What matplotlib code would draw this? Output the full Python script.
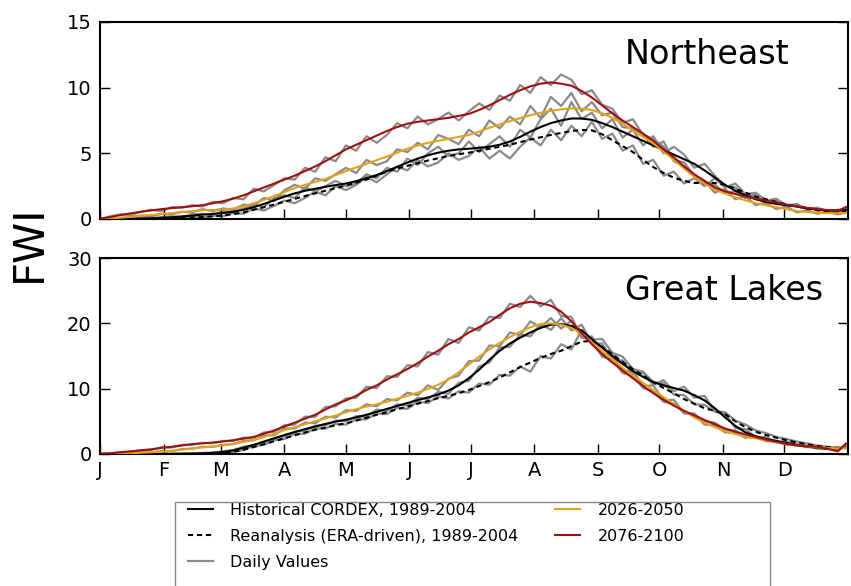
import matplotlib
matplotlib.use("Agg")
import matplotlib.pyplot as plt
from matplotlib.lines import Line2D
from matplotlib.patches import Rectangle

# ---------------- data ----------------
days = list(range(0, 361, 5)) + [364]
month_starts = [0, 31, 59, 90, 120, 151, 181, 212, 243, 273, 304, 334]
month_labels = ["J", "F", "M", "A", "M", "J", "J", "A", "S", "O", "N", "D"]

# Northeast smooth curves
ne_hist = [0.0, 0.0, 0.0, 0.01, 0.03, 0.05, 0.08, 0.13, 0.2, 0.26,
           0.33, 0.39, 0.45, 0.55, 0.7, 0.9, 1.15, 1.42, 1.7, 1.95,
           2.15, 2.3, 2.45, 2.58, 2.7, 2.88, 3.1, 3.35, 3.65, 3.97,
           4.3, 4.6, 4.85, 5.05, 5.2, 5.3, 5.35, 5.42, 5.5, 5.65,
           5.9, 6.25, 6.65, 7.0, 7.3, 7.5, 7.65, 7.65, 7.55, 7.3,
           7.0, 6.65, 6.3, 5.95, 5.6, 5.25, 4.9, 4.55, 4.2, 3.7,
           3.15, 2.6, 2.15, 1.8, 1.5, 1.3, 1.15, 1.05, 0.95, 0.82,
           0.7, 0.65, 0.65, 0.7]
ne_rean = [0.0, 0.0, 0.0, 0.0, 0.0, 0.01, 0.02, 0.04, 0.07, 0.1,
           0.15, 0.2, 0.27, 0.37, 0.5, 0.7, 0.9, 1.1, 1.32, 1.53,
           1.75, 1.95, 2.15, 2.35, 2.55, 2.77, 3.0, 3.3, 3.6, 3.85,
           4.05, 4.25, 4.45, 4.62, 4.8, 4.93, 5.05, 5.2, 5.35, 5.5,
           5.65, 5.85, 6.05, 6.22, 6.4, 6.55, 6.7, 6.78, 6.75, 6.45,
           6.0, 5.55, 5.1, 4.5, 3.95, 3.5, 3.15, 2.9, 2.75, 2.72,
           2.75, 2.6, 2.3, 2.0, 1.7, 1.5, 1.3, 1.12, 0.95, 0.8,
           0.65, 0.58, 0.55, 0.6]
ne_mid = [0.0, 0.05, 0.1, 0.17, 0.25, 0.31, 0.37, 0.45, 0.52, 0.6,
          0.66, 0.68, 0.72, 0.8, 0.95, 1.2, 1.45, 1.75, 2.05, 2.35,
          2.6, 2.82, 3.05, 3.35, 3.65, 3.92, 4.2, 4.48, 4.75, 5.05,
          5.35, 5.6, 5.8, 5.95, 6.1, 6.25, 6.4, 6.65, 6.95, 7.2,
          7.45, 7.68, 7.9, 8.08, 8.25, 8.35, 8.42, 8.4, 8.3, 8.05,
          7.7, 7.25, 6.75, 6.25, 5.75, 5.15, 4.5, 3.85, 3.2, 2.7,
          2.25, 1.93, 1.65, 1.42, 1.2, 1.05, 0.9, 0.75, 0.6, 0.53,
          0.47, 0.45, 0.43, 0.45]
ne_end = [0.0, 0.15, 0.3, 0.43, 0.55, 0.65, 0.75, 0.83, 0.9, 0.97,
          1.05, 1.2, 1.35, 1.55, 1.8, 2.1, 2.4, 2.7, 3.0, 3.3,
          3.65, 4.0, 4.4, 4.85, 5.3, 5.65, 6.0, 6.35, 6.7, 7.0,
          7.25, 7.4, 7.5, 7.6, 7.7, 7.85, 8.0, 8.3, 8.65, 9.05,
          9.45, 9.8, 10.1, 10.3, 10.4, 10.3, 10.15, 9.75, 9.25, 8.65,
          8.05, 7.5, 7.0, 6.5, 5.95, 5.3, 4.7, 4.0, 3.4, 2.9,
          2.4, 2.1, 1.9, 1.7, 1.55, 1.4, 1.25, 1.1, 0.95, 0.85,
          0.75, 0.68, 0.6, 0.9]

# Northeast daily values
ne_hist_daily = [0.0, 0.05, 0.0, 0.05, 0.1, 0.05, 0.15, 0.2, 0.15, 0.35,
                 0.4, 0.3, 0.6, 0.55, 0.8, 1.1, 0.9, 1.6, 1.8, 1.6,
                 2.4, 2.1, 2.5, 2.9, 2.5, 2.7, 3.4, 3.1, 3.9, 3.6,
                 4.6, 4.1, 5.0, 5.5, 4.8, 5.0, 5.9, 5.1, 5.7, 6.3,
                 5.5, 6.8, 6.2, 7.6, 8.4, 7.1, 8.9, 7.6, 8.1, 6.9,
                 7.6, 6.2, 6.8, 5.6, 6.3, 5.0, 5.5, 4.9, 3.9, 4.2,
                 3.3, 2.5, 2.4, 1.6, 1.9, 1.2, 1.4, 1.0, 1.1, 0.8,
                 0.8, 0.6, 0.7, 0.75]
ne_rean_daily = [0.0, 0.0, 0.05, 0.0, 0.0, 0.05, 0.0, 0.1, 0.05, 0.15,
                 0.1, 0.25, 0.2, 0.45, 0.4, 0.8, 0.65, 1.0, 1.4, 1.2,
                 1.6, 2.1, 1.8, 2.5, 2.2, 2.6, 3.2, 2.8, 3.4, 4.0,
                 3.7, 4.5, 4.0, 4.3, 5.0, 4.5, 4.8, 5.5, 4.6, 5.2,
                 4.6, 5.5, 6.2, 5.6, 6.8, 6.0, 7.1, 6.3, 7.4, 6.1,
                 6.5, 5.2, 5.6, 4.2, 4.5, 3.3, 3.6, 2.7, 3.1, 2.5,
                 3.1, 2.4, 2.7, 1.9, 2.0, 1.4, 1.55, 1.0, 1.15, 0.7,
                 0.85, 0.5, 0.6, 0.5]
ne_mid_daily = [0.0, 0.1, 0.05, 0.15, 0.25, 0.2, 0.4, 0.35, 0.55, 0.5,
                0.75, 0.6, 0.8, 0.7, 1.1, 1.0, 1.6, 1.4, 2.2, 2.6,
                2.3, 3.1, 2.9, 3.4, 3.9, 3.5, 4.5, 4.1, 4.4, 5.3,
                5.1, 5.8, 5.3, 6.4, 6.1, 5.7, 6.8, 6.3, 7.5, 6.9,
                7.8, 7.2, 8.6, 7.7, 9.3, 8.6, 9.6, 8.2, 8.9, 7.9,
                8.1, 7.0, 6.9, 6.5, 5.5, 5.9, 4.4, 4.0, 3.3, 2.9,
                2.0, 2.3, 1.5, 1.75, 1.05, 1.25, 0.75, 0.95, 0.5, 0.65,
                0.4, 0.55, 0.35, 0.5]
ne_end_daily = [0.0, 0.2, 0.35, 0.3, 0.55, 0.7, 0.6, 0.9, 0.85, 1.05,
                0.95, 1.3, 1.2, 1.6, 1.5, 2.3, 2.1, 2.6, 3.1, 3.0,
                3.9, 3.6, 4.7, 4.4, 5.6, 5.2, 6.3, 5.8, 6.4, 7.3,
                6.9, 7.8, 7.2, 7.6, 8.1, 7.5, 8.2, 8.8, 8.3, 9.4,
                9.0, 10.2, 9.6, 10.8, 10.2, 11.0, 10.6, 9.5, 9.8, 8.7,
                8.4, 7.3, 7.6, 6.4, 6.1, 5.5, 4.5, 4.3, 3.3, 2.8,
                2.6, 2.0, 2.1, 1.6, 1.7, 1.3, 1.35, 1.0, 1.05, 0.8,
                0.85, 0.6, 0.6, 0.9]

# Great Lakes smooth curves
gl_hist = [0.0, 0.0, 0.0, 0.0, 0.0, 0.0, 0.0, 0.0, 0.02, 0.05,
           0.1, 0.18, 0.3, 0.55, 0.95, 1.4, 1.9, 2.4, 2.9, 3.35,
           3.8, 4.2, 4.6, 4.95, 5.25, 5.6, 6.0, 6.45, 6.9, 7.35,
           7.8, 8.25, 8.65, 9.1, 9.7, 10.5, 11.6, 12.9, 14.4, 15.8,
           16.9, 17.8, 18.6, 19.3, 19.8, 19.9, 19.6, 18.9, 17.6, 16.3,
           15.0, 13.8, 12.7, 11.8, 11.0, 10.5, 10.1, 9.7, 9.0, 8.2,
           7.0, 5.6, 4.3, 3.3, 2.7, 2.3, 2.0, 1.7, 1.4, 1.15,
           0.9, 0.8, 0.9, 0.95]
gl_rean = [0.0, 0.0, 0.0, 0.0, 0.0, 0.0, 0.0, 0.0, 0.0, 0.0,
           0.02, 0.05, 0.1, 0.3, 0.65, 1.05, 1.5, 1.95, 2.4, 2.85,
           3.3, 3.7, 4.05, 4.4, 4.7, 5.1, 5.55, 6.0, 6.4, 6.85,
           7.25, 7.7, 8.1, 8.55, 8.9, 9.3, 9.8, 10.4, 11.0, 11.7,
           12.5, 13.3, 14.0, 14.7, 15.3, 15.8, 16.5, 17.2, 17.3, 16.4,
           15.3, 14.1, 13.0, 12.0, 11.0, 10.1, 9.3, 8.4, 7.7, 7.0,
           6.6, 6.1, 5.0, 4.1, 3.4, 2.9, 2.5, 2.1, 1.75, 1.5,
           1.2, 1.05, 0.95, 0.95]
gl_mid = [0.0, 0.0, 0.05, 0.1, 0.18, 0.27, 0.35, 0.5, 0.65, 0.85,
          1.0, 1.15, 1.3, 1.55, 1.85, 2.15, 2.6, 3.1, 3.65, 4.1,
          4.55, 5.0, 5.45, 5.9, 6.4, 6.85, 7.25, 7.6, 8.0, 8.45,
          8.9, 9.4, 9.95, 10.6, 11.4, 12.5, 13.7, 14.9, 16.0, 17.0,
          17.9, 18.7, 19.4, 19.9, 20.0, 19.8, 19.3, 18.4, 17.1, 15.8,
          14.5, 13.2, 12.0, 10.9, 9.8, 8.7, 7.6, 6.6, 5.6, 4.8,
          4.1, 3.5, 3.05, 2.7, 2.4, 2.1, 1.8, 1.5, 1.3, 1.15,
          1.0, 0.9, 0.87, 0.9]
gl_end = [0.0, 0.1, 0.25, 0.4, 0.55, 0.7, 0.95, 1.1, 1.3, 1.5,
          1.62, 1.75, 1.9, 2.1, 2.35, 2.6, 3.1, 3.6, 4.2, 4.8,
          5.4, 6.0, 6.8, 7.6, 8.2, 8.9, 9.8, 10.5, 11.4, 12.2,
          13.0, 13.9, 14.9, 15.8, 16.8, 17.6, 18.6, 19.4, 20.2, 21.3,
          22.3, 23.0, 23.3, 23.1, 22.7, 21.8, 20.3, 18.5, 16.8, 15.3,
          14.0, 12.8, 11.6, 10.4, 9.3, 8.3, 7.4, 6.6, 5.9, 5.2,
          4.55, 3.9, 3.4, 3.0, 2.6, 2.2, 1.85, 1.55, 1.3, 1.15,
          1.1, 0.8, 0.4, 1.6]

# Great Lakes daily values
gl_hist_daily = [0.0, 0.0, 0.0, 0.05, 0.0, 0.0, 0.05, 0.0, 0.1, 0.05,
                 0.15, 0.2, 0.4, 0.6, 1.1, 1.3, 1.8, 2.4, 2.7, 3.4,
                 3.6, 4.3, 4.4, 5.1, 5.0, 5.8, 5.7, 6.8, 6.6, 7.6,
                 7.4, 8.6, 8.4, 9.5, 9.2, 10.9, 11.2, 13.4, 14.0, 16.3,
                 16.4, 18.3, 18.0, 19.9, 19.0, 20.8, 18.9, 19.8, 17.0, 16.9,
                 14.5, 14.3, 12.2, 12.4, 10.6, 11.3, 9.6, 10.3, 8.6, 8.9,
                 6.5, 6.1, 4.0, 3.8, 2.5, 2.6, 1.8, 1.9, 1.3, 1.3,
                 0.85, 0.9, 0.85, 0.95]
gl_rean_daily = [0.0, 0.0, 0.0, 0.0, 0.0, 0.05, 0.0, 0.05, 0.0, 0.05,
                 0.0, 0.1, 0.1, 0.35, 0.6, 1.2, 1.4, 2.1, 2.3, 3.1,
                 3.1, 3.9, 3.9, 4.6, 4.5, 5.3, 5.3, 6.2, 6.1, 7.1,
                 6.9, 8.0, 7.8, 8.8, 8.5, 9.6, 9.4, 10.8, 10.6, 12.1,
                 12.0, 13.4, 12.6, 15.0, 14.6, 16.8, 16.0, 19.0, 17.5, 17.6,
                 15.5, 14.9, 13.0, 12.6, 11.0, 10.8, 9.1, 9.0, 7.6, 7.5,
                 6.5, 6.4, 5.1, 4.5, 3.6, 3.2, 2.6, 2.3, 1.9, 1.6,
                 1.3, 1.1, 0.95, 0.9]
gl_mid_daily = [0.0, 0.0, 0.1, 0.1, 0.25, 0.25, 0.45, 0.45, 0.75, 0.8,
                1.1, 1.1, 1.4, 1.5, 2.0, 2.1, 2.8, 2.9, 3.9, 3.9,
                4.8, 4.7, 5.7, 5.6, 6.7, 6.6, 7.6, 7.3, 8.4, 8.2,
                9.4, 9.0, 10.5, 9.8, 11.5, 12.0, 14.2, 14.3, 16.6, 16.5,
                18.6, 18.2, 20.3, 19.4, 20.8, 19.2, 20.4, 17.8, 18.0, 15.2,
                15.3, 12.6, 12.8, 10.4, 10.5, 8.2, 8.3, 6.2, 6.2, 4.5,
                4.4, 3.3, 3.3, 2.5, 2.6, 1.95, 1.95, 1.4, 1.45, 1.05,
                1.1, 0.85, 0.95, 0.9]
gl_end_daily = [0.0, 0.1, 0.3, 0.35, 0.6, 0.65, 1.0, 1.0, 1.4, 1.4,
                1.7, 1.65, 2.0, 2.0, 2.5, 2.5, 3.3, 3.4, 4.4, 4.5,
                5.7, 5.7, 7.2, 7.3, 8.5, 8.6, 10.3, 10.1, 11.9, 11.8,
                13.6, 13.4, 15.6, 15.2, 17.6, 17.0, 19.4, 18.9, 21.0, 20.8,
                23.0, 22.5, 24.2, 22.6, 23.6, 21.1, 21.0, 17.9, 17.4, 14.9,
                14.5, 12.4, 12.0, 10.1, 9.6, 8.0, 7.7, 6.3, 6.1, 5.0,
                4.8, 3.7, 3.6, 2.8, 2.75, 2.05, 2.0, 1.45, 1.4, 1.1,
                1.2, 0.8, 0.5, 1.4]

regions = ["Northeast", "Great Lakes"]
y_ticks = [[0, 5, 10, 15], [0, 10, 20, 30]]
legend_labels = ["Historical CORDEX, 1989-2004", "Reanalysis (ERA-driven), 1989-2004",
                 "Daily Values", "2026-2050", "2076-2100"]

# ---------------- style ----------------
C_HIST = "black"
C_MID = "#e3a21a"
C_END = "#a01010"
C_GRAY = "#8a8a8a"
DASH = (0, (2.5, 1.8))

fig = plt.figure(figsize=(8.51, 5.86), dpi=100)
ax_top = fig.add_axes([0.1175, 0.6263, 0.879, 0.3362])
ax_bot = fig.add_axes([0.1175, 0.2253, 0.879, 0.3344])

panels = [
    (ax_top, ne_hist, ne_rean, ne_mid, ne_end,
     [ne_hist_daily, ne_rean_daily, ne_mid_daily, ne_end_daily]),
    (ax_bot, gl_hist, gl_rean, gl_mid, gl_end,
     [gl_hist_daily, gl_rean_daily, gl_mid_daily, gl_end_daily]),
]

for i, (ax, h, r, m, e, dailies) in enumerate(panels):
    for d in dailies:
        ax.plot(days, d, color=C_GRAY, lw=1.6, zorder=1)
    ax.plot(days, r, color=C_HIST, lw=1.5, ls=DASH, zorder=3)
    ax.plot(days, h, color=C_HIST, lw=1.5, zorder=3)
    ax.plot(days, m, color=C_MID, lw=1.5, zorder=4)
    ax.plot(days, e, color=C_END, lw=1.5, zorder=5)
    ax.set_xlim(0, 365)
    ax.set_ylim(y_ticks[i][0], y_ticks[i][-1])
    ax.set_yticks(y_ticks[i])
    ax.set_xticks(month_starts)
    ax.tick_params(axis="both", direction="in", length=7, width=1, labelsize=14,
                   left=True, right=True, top=False, bottom=True)
    ax.tick_params(axis="y", pad=6)
    ax.tick_params(axis="x", pad=5)
    for s in ax.spines.values():
        s.set_linewidth(1.5)
    ax.text(0.702, 0.92, regions[i], transform=ax.transAxes, ha="left", va="top",
            fontsize=24)

ax_top.set_xticklabels([])
ax_bot.set_xticklabels(month_labels)

fig.text(0.034, 0.585, "FWI", rotation=90, fontsize=30, ha="center", va="center")

handles = [
    Line2D([], [], color=C_HIST, lw=1.5),
    Line2D([], [], color=C_HIST, lw=1.5, ls=DASH),
    Line2D([], [], color=C_GRAY, lw=1.6),
    Line2D([], [], color=C_MID, lw=1.5),
    Line2D([], [], color=C_END, lw=1.5),
]
leg = fig.legend(handles, legend_labels, ncol=2, loc="upper left",
                 bbox_to_anchor=(173.6 / 851, 1 - 488.6 / 586), fontsize=11.5,
                 frameon=False, handlelength=1.56, handletextpad=1.1,
                 labelspacing=0.68, columnspacing=2.3, borderpad=0.4)
fig.patches.append(Rectangle((175 / 851, -0.05), (770 - 175) / 851, 1 - 502 / 586 + 0.05,
                             transform=fig.transFigure, fill=False,
                             edgecolor="#888888", lw=1.0))

fig.savefig("out.png", dpi=100)
